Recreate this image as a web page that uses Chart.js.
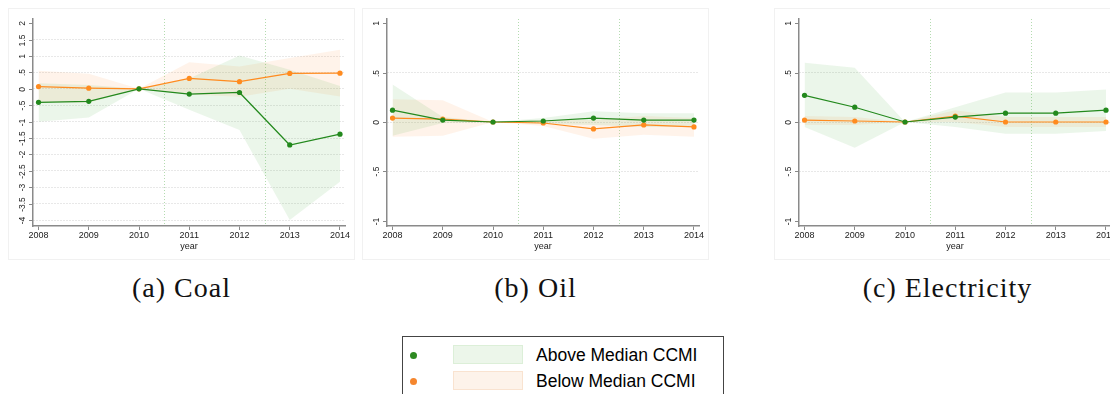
<!DOCTYPE html>
<html>
<head>
<meta charset="utf-8">
<script src="https://cdn.jsdelivr.net/npm/chart.js@4"></script>
<style>
  body { margin: 0; width: 1110px; height: 394px; overflow: hidden; background: #fff; position: relative;
         font-family: "Liberation Sans", Arial, sans-serif; }
  .panel { position: absolute; top: 9px; width: 345px; height: 250px; outline: 1px solid #f1f1f1; }
  .panel canvas { position: absolute; left: 0; top: 0; }
  .cap { position: absolute; top: 272px; width: 345px; text-align: center;
         font-family: "Liberation Serif", "DejaVu Serif", serif; font-size: 28px; color: #111; letter-spacing: 1px; }
  #legend { position: absolute; left: 402px; top: 336px; width: 322px; height: 70px; border: 1px solid #444; box-sizing: border-box; }
  #legend .dot { position: absolute; left: 7px; width: 7px; height: 7px; border-radius: 50%; }
  #legend .patch { position: absolute; left: 50px; width: 70px; height: 19px; box-sizing: border-box; }
  #legend .txt { position: absolute; left: 133px; font-size: 17.5px; color: #000; line-height: 20px; }
</style>
</head>
<body>

<div class="panel" style="left:9px"><canvas id="coal" width="345" height="250"></canvas></div>
<div class="panel" style="left:363px"><canvas id="oil" width="345" height="250"></canvas></div>
<div class="panel" style="left:775px"><canvas id="elec" width="345" height="250"></canvas></div>

<div class="cap" style="left:9px">(a) Coal</div>
<div class="cap" style="left:363px">(b) Oil</div>
<div class="cap" style="left:775px">(c) Electricity</div>

<div id="legend">
  <div class="dot" style="top:15px;background:#2e8a22"></div>
  <div class="patch" style="top:8px;background:#ecf6ea;border:1px solid #dcefd8"></div>
  <div class="txt" style="top:8px">Above Median CCMI</div>
  <div class="dot" style="top:41px;background:#f5862e"></div>
  <div class="patch" style="top:34px;background:#fdf3ea;border:1px solid #f9e3d0"></div>
  <div class="txt" style="top:34px">Below Median CCMI</div>
</div>

<script>
const years = [2008, 2009, 2010, 2011, 2012, 2013, 2014];
const breakYears = [2010.5, 2012.5];

// Coal
const coalAbove = [-0.41, -0.38, 0, -0.16, -0.11, -1.71, -1.38];
const coalAboveHi = [0.17, 0.12, 0, 0.32, 1.02, 0.58, 0.09];
const coalAboveLo = [-1.0, -0.87, 0, -0.64, -1.25, -4.0, -2.83];
const coalBelow = [0.07, 0.02, 0, 0.32, 0.22, 0.47, 0.48];
const coalBelowHi = [0.55, 0.46, 0, 0.81, 0.68, 0.94, 1.19];
const coalBelowLo = [-0.41, -0.42, 0, -0.17, -0.24, 0.0, -0.23];
const coalTicks = [2, 1.5, 1, 0.5, 0, -0.5, -1, -1.5, -2, -2.5, -3, -3.5, -4];
const coalLabels = ['2', '1.5', '1', '.5', '0', '-.5', '-1', '-1.5', '-2', '-2.5', '-3', '-3.5', '-4'];

// Oil
const oilAbove = [0.12, 0.02, 0, 0.01, 0.04, 0.02, 0.02];
const oilAboveHi = [0.38, 0.05, 0, 0.04, 0.11, 0.09, 0.09];
const oilAboveLo = [-0.14, -0.01, 0, -0.02, -0.03, -0.05, -0.05];
const oilBelow = [0.04, 0.03, 0, -0.01, -0.07, -0.03, -0.05];
const oilBelowHi = [0.23, 0.22, 0, 0.02, 0.02, 0.06, 0.04];
const oilBelowLo = [-0.15, -0.14, 0, -0.04, -0.17, -0.13, -0.15];

// Electricity
const elecAbove = [0.27, 0.15, 0, 0.05, 0.09, 0.09, 0.12];
const elecAboveHi = [0.60, 0.55, 0, 0.15, 0.30, 0.30, 0.33];
const elecAboveLo = [-0.05, -0.26, 0, -0.05, -0.12, -0.12, -0.09];
const elecBelow = [0.02, 0.01, 0, 0.06, 0.0, 0.0, 0.0];
const elecBelowHi = [0.06, 0.05, 0, 0.12, 0.05, 0.05, 0.05];
const elecBelowLo = [-0.03, -0.03, 0, 0.0, -0.05, -0.05, -0.05];

const unitTicks = [1, 0.5, 0, -0.5, -1];
const unitLabels = ['1', '.5', '0', '-.5', '-1'];

const green = '#23891d', orange = '#ff8b1f';
const greenBand = 'rgba(60,165,50,0.10)', orangeBand = 'rgba(255,150,60,0.11)';

function pts(arr) { return arr.map((v, i) => ({ x: years[i], y: v })); }

// draws the vertical dotted break lines
const breakLines = {
  id: 'breakLines',
  beforeDatasetsDraw(chart) {
    const { ctx, chartArea, scales } = chart;
    ctx.save();
    ctx.strokeStyle = '#b4dbb0';
    ctx.lineWidth = 1;
    ctx.setLineDash([1, 2]);
    breakYears.forEach(b => {
      const x = Math.round(scales.x.getPixelForValue(b)) + 0.5;
      ctx.beginPath();
      ctx.moveTo(x, chartArea.top);
      ctx.lineTo(x, chartArea.bottom);
      ctx.stroke();
    });
    ctx.restore();
  }
};

// Stata style rotated y labels
const rotLabels = {
  id: 'rotLabels',
  afterDraw(chart, args, opts) {
    const { ctx, chartArea, scales } = chart;
    ctx.save();
    ctx.strokeStyle = '#888';
    ctx.lineWidth = 1;
    ctx.fillStyle = '#222';
    ctx.font = '8.5px "Liberation Sans", Arial, sans-serif';
    ctx.textAlign = 'center';
    ctx.textBaseline = 'middle';
    opts.ticks.forEach((v, i) => {
      const y = Math.round(scales.y.getPixelForValue(v)) + 0.5;
      ctx.beginPath();
      ctx.moveTo(chartArea.left - 4, y);
      ctx.lineTo(chartArea.left, y);
      ctx.stroke();
      ctx.save();
      ctx.translate(chartArea.left - 10, y);
      ctx.rotate(-Math.PI / 2);
      ctx.fillText(opts.labels[i], 0, 0);
      ctx.restore();
    });
    ctx.restore();
  }
};

function makeChart(id, d, ymin, ymax, ticks, labels, noGrid) {
  const lineDs = (data, color) => ({
    data: pts(data), borderColor: color, backgroundColor: color, borderWidth: 1.2,
    pointRadius: 2.6, pointBorderWidth: 0, fill: false, order: 0, tension: 0
  });
  const bandDs = (hi, lo, color) => [
    { data: pts(hi), borderWidth: 0, pointRadius: 0, backgroundColor: color, fill: '+1', order: 1 },
    { data: pts(lo), borderWidth: 0, pointRadius: 0, backgroundColor: color, fill: false, order: 1 }
  ];
  new Chart(document.getElementById(id), {
    type: 'line',
    data: {
      datasets: [
        lineDs(d.above, green),
        lineDs(d.below, orange),
        ...bandDs(d.aboveHi, d.aboveLo, greenBand),
        ...bandDs(d.belowHi, d.belowLo, orangeBand)
      ]
    },
    options: {
      responsive: false,
      animation: false,
      events: [],
      layout: { padding: { top: 10, right: 9, left: 0, bottom: 0 } },
      plugins: {
        legend: { display: false },
        tooltip: { enabled: false },
        rotLabels: { ticks: ticks, labels: labels }
      },
      scales: {
        x: {
          type: 'linear', min: 2007.89, max: 2014.1,
          afterBuildTicks: s => { s.ticks = years.map(v => ({ value: v })); },
          afterFit: s => { s.height = 33; },
          border: { color: '#8a8a8a', width: 1.5 },
          grid: { drawOnChartArea: false, drawTicks: true, tickLength: 4, color: '#8a8a8a' },
          ticks: {
            callback: v => String(v), color: '#222', padding: 1, maxRotation: 0, autoSkip: false,
            font: { family: '"Liberation Sans", Arial, sans-serif', size: 9, lineHeight: 1 }
          },
          title: {
            display: true, text: 'year', color: '#222', padding: { top: 0, bottom: 8 },
            font: { family: '"Liberation Sans", Arial, sans-serif', size: 9, lineHeight: 1 }
          }
        },
        y: {
          type: 'linear', min: ymin, max: ymax,
          afterBuildTicks: s => { s.ticks = ticks.map(v => ({ value: v })); },
          afterFit: s => { s.width = 24; },
          border: { color: '#8a8a8a', width: 1.5, dash: [1, 2] },
          grid: {
            drawTicks: false, lineWidth: 1,
            color: c => noGrid.includes(c.tick.value) ? 'rgba(0,0,0,0)' : '#d0d0d0'
          },
          ticks: { display: false }
        }
      }
    },
    plugins: [breakLines, rotLabels]
  });
}

makeChart('coal', { above: coalAbove, aboveHi: coalAboveHi, aboveLo: coalAboveLo,
  below: coalBelow, belowHi: coalBelowHi, belowLo: coalBelowLo }, -4.18, 2.13, coalTicks, coalLabels, [2]);
makeChart('oil', { above: oilAbove, aboveHi: oilAboveHi, aboveLo: oilAboveLo,
  below: oilBelow, belowHi: oilBelowHi, belowLo: oilBelowLo }, -1.054, 1.044, unitTicks, unitLabels, [1, -1]);
makeChart('elec', { above: elecAbove, aboveHi: elecAboveHi, aboveLo: elecAboveLo,
  below: elecBelow, belowHi: elecBelowHi, belowLo: elecBelowLo }, -1.054, 1.044, unitTicks, unitLabels, [1, -1]);
</script>
</body>
</html>
